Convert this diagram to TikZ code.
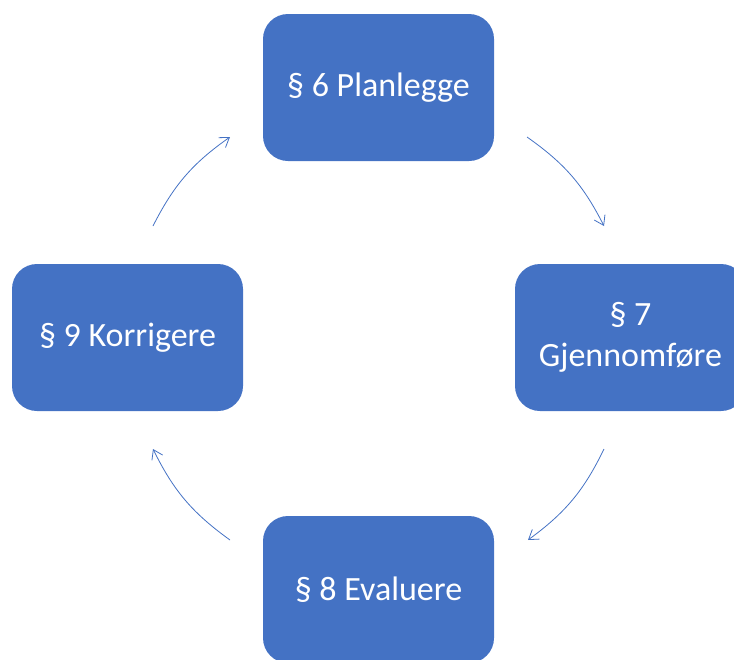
\documentclass[tikz,border=0pt]{standalone}
\usepackage{fontspec}
\setmainfont{Carlito}
\usepackage{xcolor}
\usetikzlibrary{arrows.meta}
\usetikzlibrary{positioning}

\definecolor{boxblue}{HTML}{4472C4}

\begin{document}
\begin{tikzpicture}[x=1pt,y=-1pt]
    \useasboundingbox (0,0) rectangle (734,659);
    \clip (0,0) rectangle (734,659);
    \begin{scope}[every node/.style={rectangle,rounded corners=25pt,fill=boxblue,text=white,
        minimum width=231pt,minimum height=147pt,align=center,inner sep=0pt,
        font=\fontsize{34}{41}\selectfont}]
      \node (plan) at (378.5,87.5) {§ 6 Planlegge};
      \node (gjen) at (630.5,337.5) {§ 7\\Gjennomføre};
      \node (eval) at (378.5,589.5) {§ 8 Evaluere};
      \node (korr) at (127.5,337.5) {§ 9 Korrigere};
    \end{scope}
    % ends of the arcs
    \coordinate (a1) at (527,137);
    \coordinate (a2) at (604,226);
    \coordinate (b1) at (604,449);
    \coordinate (b2) at (528,540);
    \coordinate (c1) at (230,540);
    \coordinate (c2) at (153,449);
    \coordinate (d1) at (153,226);
    \coordinate (d2) at (230,137);
    \begin{scope}[every edge/.style={draw=boxblue,line width=0.8pt,
        -{Straight Barb[length=9pt,width=12pt,line width=0.8pt]}}]
      \path (a1) edge[bend left=14] (a2);
      \path (b1) edge[bend left=14] (b2);
      \path (c1) edge[bend left=14] (c2);
      \path (d1) edge[bend left=14] (d2);
    \end{scope}
\end{tikzpicture}
\end{document}
